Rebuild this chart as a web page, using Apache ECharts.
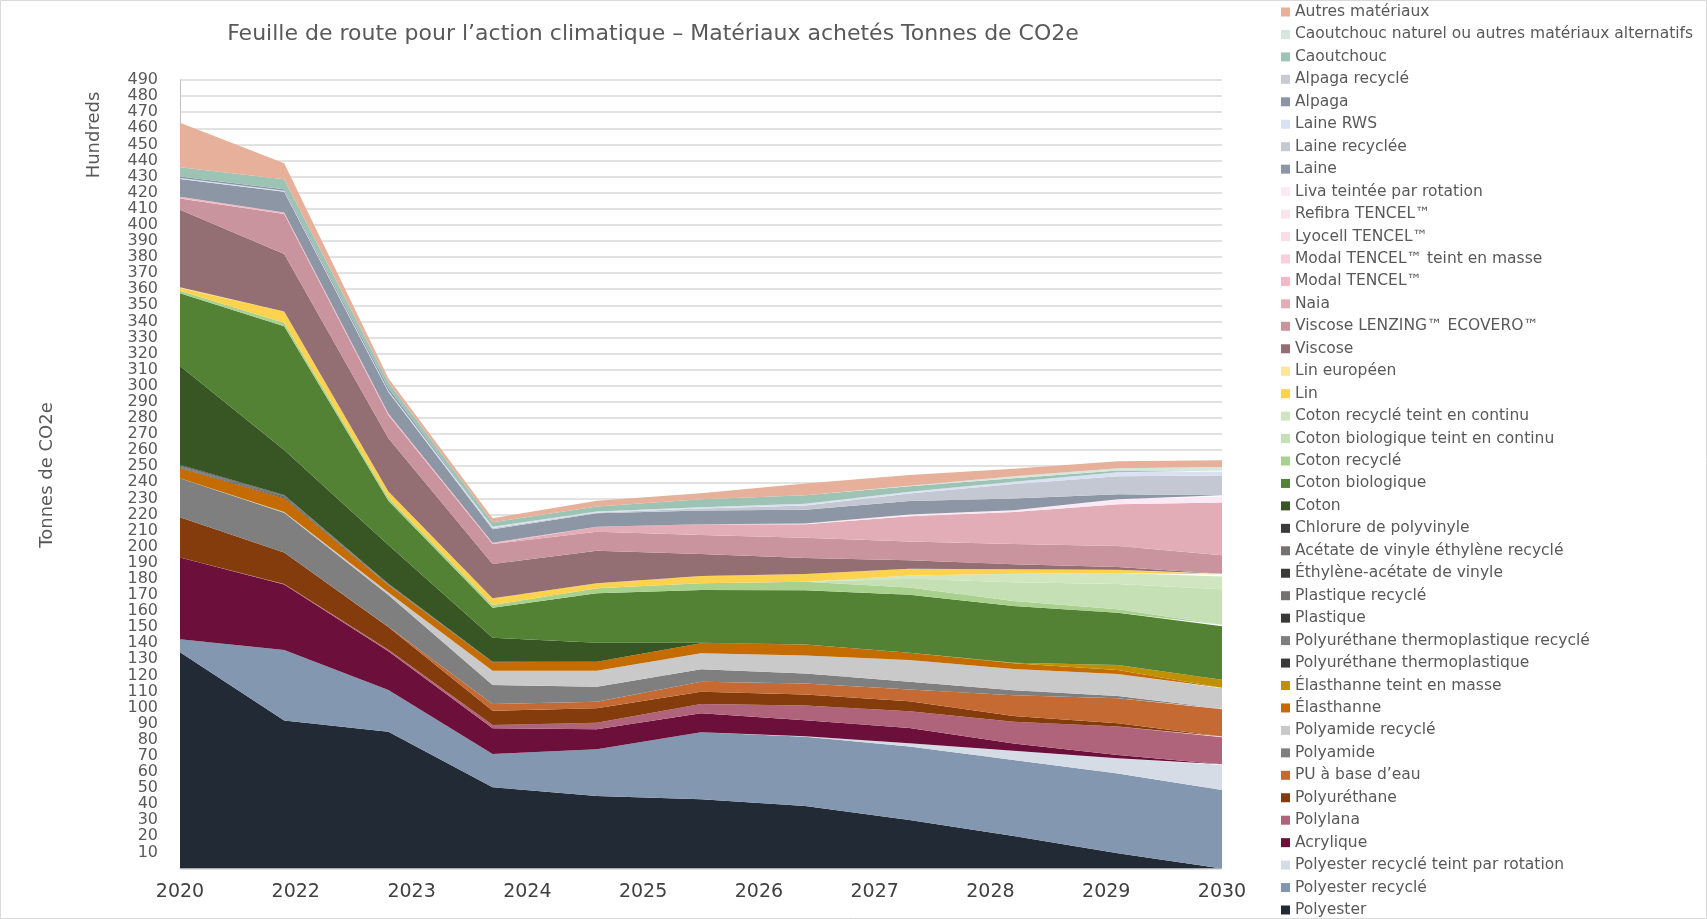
<!DOCTYPE html>
<html>
<head>
<meta charset="utf-8">
<script src="https://cdn.jsdelivr.net/npm/echarts@6/dist/echarts.min.js"></script>
<style>
  html, body { margin: 0; padding: 0; background: #fff; }
  #chart { width: 1707px; height: 919px; }
</style>
</head>
<body>
<div id="chart"></div>
<script>
// 11 points de données, 10 libellés d'années sur l'axe
const years = ['2020', '2021', '2022', '2023', '2024', '2025', '2026', '2027', '2028', '2029', '2030'];
const yearLabels = ['2020', '2022', '2023', '2024', '2025', '2026', '2027', '2028', '2029', '2030'];

// valeurs en centaines de tonnes de CO2e (de bas en haut de l'empilement)
const polyester          = [134.4, 91.9, 85, 50.5, 45.1, 43, 38.8, 30.2, 20.2, 9.4, 0];
const polyesterRecycle   = [8, 43.9, 26, 20.7, 29, 41.6, 43.1, 45.6, 47.3, 49.7, 48.8];
const polyesterRecTeint  = [0, 0, 0, 0, 0, 0, 0.3, 2, 5.7, 9.4, 15.5];
const acrylique          = [50.8, 40.7, 24, 15.9, 12.4, 11.8, 10, 9.5, 4.5, 2, 0.5];
const polylana           = [0, 0.3, 1, 2, 4.1, 5.8, 9.1, 10.4, 13.5, 17.7, 16.7];
const polyurethane       = [25.1, 19.5, 14, 9, 9, 7.7, 6.8, 6.2, 3.5, 2, 0.5];
const puBaseEau          = [0, 0, 0.3, 4.1, 4.1, 6.2, 6.9, 7.3, 13, 15.6, 17];
const polyamide          = [24.2, 24.8, 19.7, 11.8, 9.3, 7.7, 6.2, 4.9, 3, 1.4, 0.5];
const polyamideRecycle   = [0, 0.5, 1.5, 8.9, 9.9, 9.9, 11.2, 13.5, 13.3, 13.7, 12.5];
const elasthanne         = [6.2, 8.5, 4.5, 5.3, 5.6, 6.3, 6.8, 4.5, 3.6, 2.5, 0.3];
const elasthanneTeint    = [0, 0, 0, 0, 0, 0, 0, 0, 0.3, 3, 5];
const tpu                = [0.4, 0.4, 0.2, 0.1, 0, 0, 0, 0, 0, 0, 0];
const tpuRecycle         = [0.2, 0.2, 0.1, 0, 0, 0, 0, 0, 0, 0, 0];
const plastique          = [0.4, 0.4, 0.2, 0.1, 0, 0, 0, 0, 0, 0, 0];
const plastiqueRecycle   = [0.2, 0.2, 0.1, 0, 0, 0, 0, 0, 0, 0, 0];
const eva                = [0.4, 0.3, 0.2, 0, 0, 0, 0, 0, 0, 0, 0];
const evaRecycle         = [0.2, 0.2, 0.1, 0, 0, 0, 0, 0, 0, 0, 0];
const pvc                = [0.4, 0.3, 0.1, 0.1, 0, 0, 0, 0, 0, 0, 0];
const coton              = [61.4, 27.9, 24, 14.9, 11.8, 0.3, 0, 0, 0, 0, 0];
const cotonBio           = [45.2, 77, 27.5, 18.7, 30.7, 32.8, 33.7, 36, 35.3, 32.5, 33.2];
const cotonRecycle       = [1.6, 2.2, 1.8, 1.7, 3.1, 4.1, 5.3, 4.6, 3.1, 2.2, 1];
const cotonBioTeint      = [0, 0, 0, 0, 0, 0, 0, 5.4, 11.6, 15.7, 22];
const cotonRecTeint      = [0, 0, 0, 0, 0, 0, 0, 2, 5.3, 6.8, 8];
const lin                = [1.6, 6.9, 4, 4.1, 3.1, 4.6, 4.8, 4.2, 2.7, 2.1, 1.2];
const linEuropeen        = [0.5, 0, 0, 0, 0, 0, 0, 0, 0, 0, 0];
const viscose            = [48.1, 35.8, 33, 21.4, 20.3, 13.7, 9.9, 5.3, 3.2, 1.7, 0.5];
const ecovero            = [7, 24.9, 14.3, 12.4, 11.8, 11.8, 12.7, 11.6, 12.6, 13, 11.5];
const naia               = [0, 0, 0, 0, 3.1, 6.6, 8.4, 15.7, 19.8, 25.9, 32.7];
const modal              = [1.2, 0.8, 1.2, 0.8, 0, 0, 0, 0, 0, 0, 0];
const modalTeint         = [0, 0, 0, 0, 0, 0, 0, 0, 0, 0, 0];
const lyocell            = [0, 0, 0, 0, 0, 0, 0, 0, 0, 0, 0];
const refibra            = [0, 0, 0, 0, 0, 0, 0, 0, 0, 0, 0];
const liva               = [0, 0, 0, 0, 0, 0, 0.4, 1.1, 1.2, 3.2, 3.8];
const laine              = [11, 13, 13.3, 8.3, 8.4, 8.5, 8.6, 8.4, 7.2, 3.1, 0.8];
const laineRecyclee      = [0, 0, 0, 0.8, 0.5, 1.3, 2.6, 4.7, 9, 11.2, 12.2];
const laineRws           = [0.6, 0.5, 0.8, 0.8, 0.5, 0.8, 1, 1, 1.5, 2.5, 2.5];
const alpaga             = [0.9, 1, 1.7, 0, 0, 0, 0, 0, 0, 0, 0];
const alpagaRecycle      = [0, 0, 0, 0, 0, 0, 0, 0, 0, 0, 0];
const caoutchouc         = [5.8, 6.2, 3.6, 2.8, 3.1, 5, 5.3, 3.5, 2.1, 1.1, 0.7];
const caoutchoucNaturel  = [0, 0, 0, 0, 0, 0, 0, 0.3, 1.3, 1.4, 2.1];
const autres             = [27.7, 10, 2.4, 2.4, 3.7, 3.7, 7.3, 6.7, 4.6, 4.3, 4.2];

// ordre d'empilement (bas -> haut)
const layers = [
  ['Polyester', polyester, '#222A35'],
  ['Polyester recyclé', polyesterRecycle, '#8497B0'],
  ['Polyester recyclé teint par rotation', polyesterRecTeint, '#D6DCE5'],
  ['Acrylique', acrylique, '#6C0F3A'],
  ['Polylana', polylana, '#B0647C'],
  ['Polyuréthane', polyurethane, '#843C0C'],
  ['PU à base d’eau', puBaseEau, '#C56A33'],
  ['Polyamide', polyamide, '#7F7F7F'],
  ['Polyamide recyclé', polyamideRecycle, '#C9C9C9'],
  ['Élasthanne', elasthanne, '#C56C00'],
  ['Élasthanne teint en masse', elasthanneTeint, '#BF9000'],
  ['Polyuréthane thermoplastique', tpu, '#3A3A3A'],
  ['Polyuréthane thermoplastique recyclé', tpuRecycle, '#7F7F7F'],
  ['Plastique', plastique, '#3B3838'],
  ['Plastique recyclé', plastiqueRecycle, '#767171'],
  ['Éthylène-acétate de vinyle', eva, '#3B3838'],
  ['Acétate de vinyle éthylène recyclé', evaRecycle, '#767171'],
  ['Chlorure de polyvinyle', pvc, '#3B3B3B'],
  ['Coton', coton, '#375623'],
  ['Coton biologique', cotonBio, '#548235'],
  ['Coton recyclé', cotonRecycle, '#A9D18E'],
  ['Coton biologique teint en continu', cotonBioTeint, '#C5E0B4'],
  ['Coton recyclé teint en continu', cotonRecTeint, '#D0E6C0'],
  ['Lin', lin, '#FDD24E'],
  ['Lin européen', linEuropeen, '#FFE699'],
  ['Viscose', viscose, '#936E72'],
  ['Viscose LENZING™ ECOVERO™', ecovero, '#C9949E'],
  ['Naia', naia, '#E3ADB7'],
  ['Modal TENCEL™', modal, '#F4B9C6'],
  ['Modal TENCEL™ teint en masse', modalTeint, '#F8D0DC'],
  ['Lyocell TENCEL™', lyocell, '#FADDE6'],
  ['Refibra TENCEL™', refibra, '#FCE4EC'],
  ['Liva teintée par rotation', liva, '#FBEAF5'],
  ['Laine', laine, '#8C96A4'],
  ['Laine recyclée', laineRecyclee, '#C4C8D2'],
  ['Laine RWS', laineRws, '#D9E1F2'],
  ['Alpaga', alpaga, '#8A96A6'],
  ['Alpaga recyclé', alpagaRecycle, '#C5CAD3'],
  ['Caoutchouc', caoutchouc, '#9DC3B5'],
  ['Caoutchouc naturel ou autres matériaux alternatifs', caoutchoucNaturel, '#D5E6DD'],
  ['Autres matériaux', autres, '#E6B09A']
];

const FONT = '"DejaVu Sans", "Open Sans", sans-serif';
const chart = echarts.init(document.getElementById('chart'));

const series = layers.map(([name, data, color]) => ({
  name: name,
  type: 'line',
  stack: 'total',
  data: data,
  symbol: 'none',
  showSymbol: false,
  lineStyle: { width: 0 },
  itemStyle: { color: color },
  areaStyle: { color: color, opacity: 1 }
}));

const option = {
  animation: false,
  textStyle: { fontFamily: FONT },
  graphic: [
    { type: 'rect', shape: { x: 0.5, y: 0.5, width: 1706, height: 918 },
      style: { fill: 'none', stroke: '#D9D9D9', lineWidth: 1 }, silent: true },
    { type: 'text', x: 653, y: 34,
      style: { text: 'Feuille de route pour l’action climatique – Matériaux achetés Tonnes de CO2e',
               fill: '#595959', font: '22px ' + FONT, align: 'center', verticalAlign: 'middle' } },
    { type: 'text', x: 94, y: 135, rotation: Math.PI / 2,
      style: { text: 'Hundreds', fill: '#595959', font: '18px ' + FONT, align: 'center', verticalAlign: 'middle' } },
    { type: 'text', x: 47, y: 475, rotation: Math.PI / 2,
      style: { text: 'Tonnes de CO2e', fill: '#595959', font: '18px ' + FONT, align: 'center', verticalAlign: 'middle' } }
  ],
  legend: {
    orient: 'vertical',
    left: 1281,
    top: 4,
    padding: 0,
    itemGap: 6.45,
    itemWidth: 9,
    itemHeight: 9,
    icon: 'rect',
    data: layers.map(l => l[0]).reverse(),
    textStyle: { fontSize: 15.5, color: '#595959', lineHeight: 16, fontFamily: FONT }
  },
  grid: { left: 180, right: 485, top: 80, bottom: 50.5 },
  xAxis: [
    {
      type: 'category', data: years, boundaryGap: false,
      axisLabel: { show: false }, axisTick: { show: false },
      axisLine: { lineStyle: { color: '#D9D9D9' } }
    },
    {
      type: 'category', data: yearLabels, boundaryGap: false, position: 'bottom',
      axisLine: { show: false }, axisTick: { show: false },
      axisLabel: { fontSize: 19, color: '#404040', margin: 14, fontFamily: FONT }
    }
  ],
  yAxis: {
    type: 'value', min: 0, max: 490, interval: 10,
    axisLine: { show: true, lineStyle: { color: '#BFBFBF' } },
    axisTick: { show: false },
    splitLine: { lineStyle: { color: '#D9D9D9', width: 1.5 } },
    axisLabel: {
      fontSize: 16, color: '#595959', margin: 22, fontFamily: FONT,
      showMaxLabel: true,
      formatter: v => (v === 0 ? '' : v)
    }
  },
  series: series
};

chart.setOption(option);
</script>
</body>
</html>
